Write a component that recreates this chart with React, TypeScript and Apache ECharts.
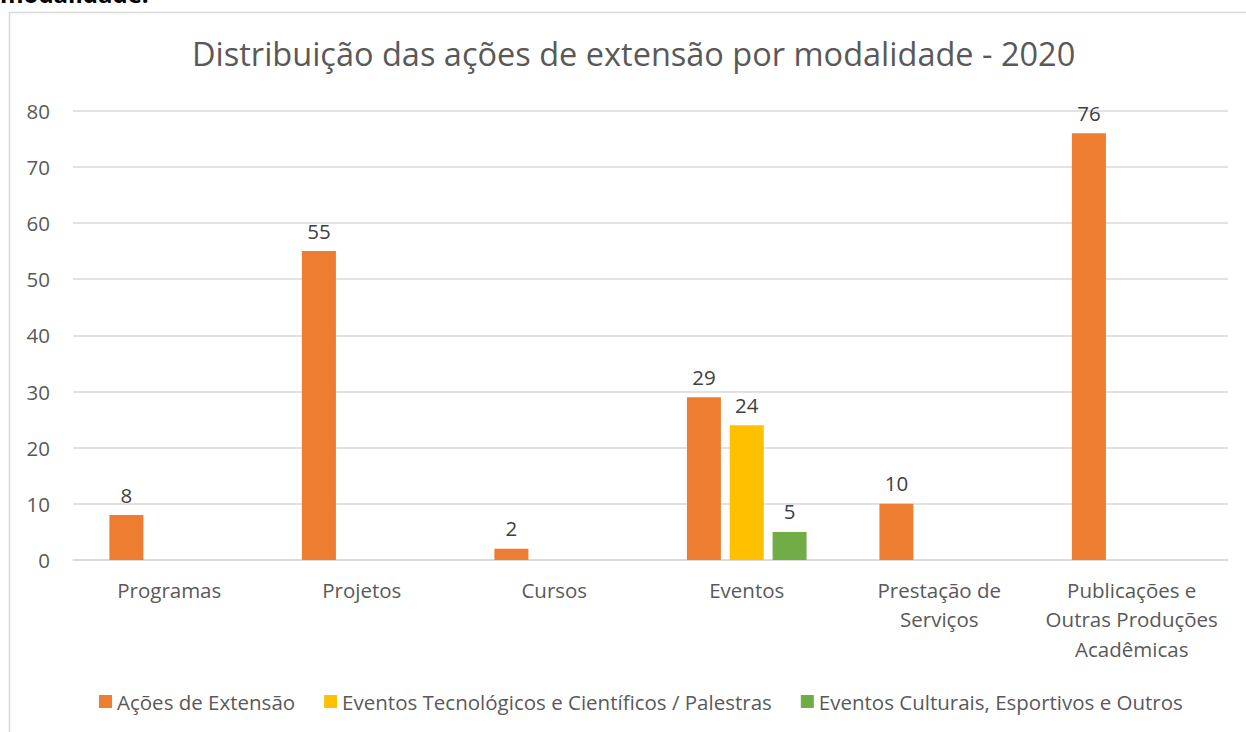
import React, { useEffect, useRef } from "react";
import * as echarts from "echarts";

const categories = [
  "Programas",
  "Projetos",
  "Cursos",
  "Eventos",
  "Prestação de\nServiços",
  "Publicações e\nOutras Produções\nAcadêmicas",
];
const acoesExtensao = [8, 55, 2, 29, 10, 76];
const eventosTecnologicos = [null, null, null, 24, null, null];
const eventosCulturais = [null, null, null, 5, null, null];
const seriesNames = [
  "Ações de Extensão",
  "Eventos Tecnológicos e Científicos / Palestras",
  "Eventos Culturais, Esportivos e Outros",
];
const colors = ["#ED7D31", "#FFC000", "#70AD47"];
const titleText = "Distribuição das ações de extensão por modalidade - 2020";

const FONT = "'Open Sans', sans-serif";

export default function App() {
  const ref = useRef<HTMLDivElement>(null);
  useEffect(() => {
    if (!ref.current) return;
    const chart = echarts.init(ref.current, undefined, { renderer: "svg" });
    const label = {
      show: true,
      position: "top",
      distance: 10,
      color: "#404040",
      fontSize: 20.5,
      fontFamily: FONT,
    };
    const mk = (i: number, data: (number | null)[]) => ({
      name: seriesNames[i],
      type: "bar",
      data,
      barWidth: 34,
      barGap: "26%",
      itemStyle: { color: colors[i] },
      label,
    });
    chart.setOption({
      animation: false,
      backgroundColor: "#ffffff",
      textStyle: { fontFamily: FONT },
      title: {
        text: titleText,
        left: 187,
        top: 32,
        textStyle: {
          color: "#595959",
          fontSize: 32.5,
          fontWeight: "normal",
          fontFamily: FONT,
        },
      },
      graphic: [
        {
          type: "rect",
          shape: { x: 9.5, y: 12.5, width: 1300, height: 800 },
          style: { fill: "none", stroke: "#d9d9d9", lineWidth: 1.5 },
          silent: true,
        },
        {
          type: "text",
          x: 0,
          y: 5,
          style: {
            text: "modalidade.",
            fontSize: 24,
            fontWeight: "bold",
            fontFamily: FONT,
            fill: "#000000",
            verticalAlign: "bottom",
          },
          silent: true,
        },
      ],
      legend: {
        bottom: 15,
        left: 94,
        itemWidth: 13,
        itemHeight: 13,
        itemGap: 29,
        itemStyle: { borderWidth: 0 },
        icon: "rect",
        textStyle: { color: "#595959", fontSize: 20.5, fontFamily: FONT },
        data: seriesNames,
      },
      grid: { left: 73, right: 18, top: 110.7, bottom: 172, containLabel: false },
      xAxis: {
        type: "category",
        data: categories,
        axisLine: { lineStyle: { color: "#d9d9d9", width: 1.5 } },
        axisTick: { show: false },
        axisLabel: {
          color: "#595959",
          fontSize: 20.5,
          fontFamily: FONT,
          margin: 15,
          lineHeight: 29.5,
          interval: 0,
        },
      },
      yAxis: {
        type: "value",
        min: 0,
        max: 80,
        interval: 10,
        axisLine: { show: false },
        axisTick: { show: false },
        splitLine: { lineStyle: { color: "#d9d9d9", width: 1.5 } },
        axisLabel: {
          color: "#595959",
          fontSize: 20.5,
          fontFamily: FONT,
          margin: 23,
        },
      },
      series: [
        mk(0, acoesExtensao),
        mk(1, eventosTecnologicos),
        mk(2, eventosCulturais),
      ],
    });
    return () => chart.dispose();
  }, []);
  return (
    <div
      ref={ref}
      style={{ position: "fixed", left: 0, top: 0, width: 1246, height: 732 }}
    />
  );
}
